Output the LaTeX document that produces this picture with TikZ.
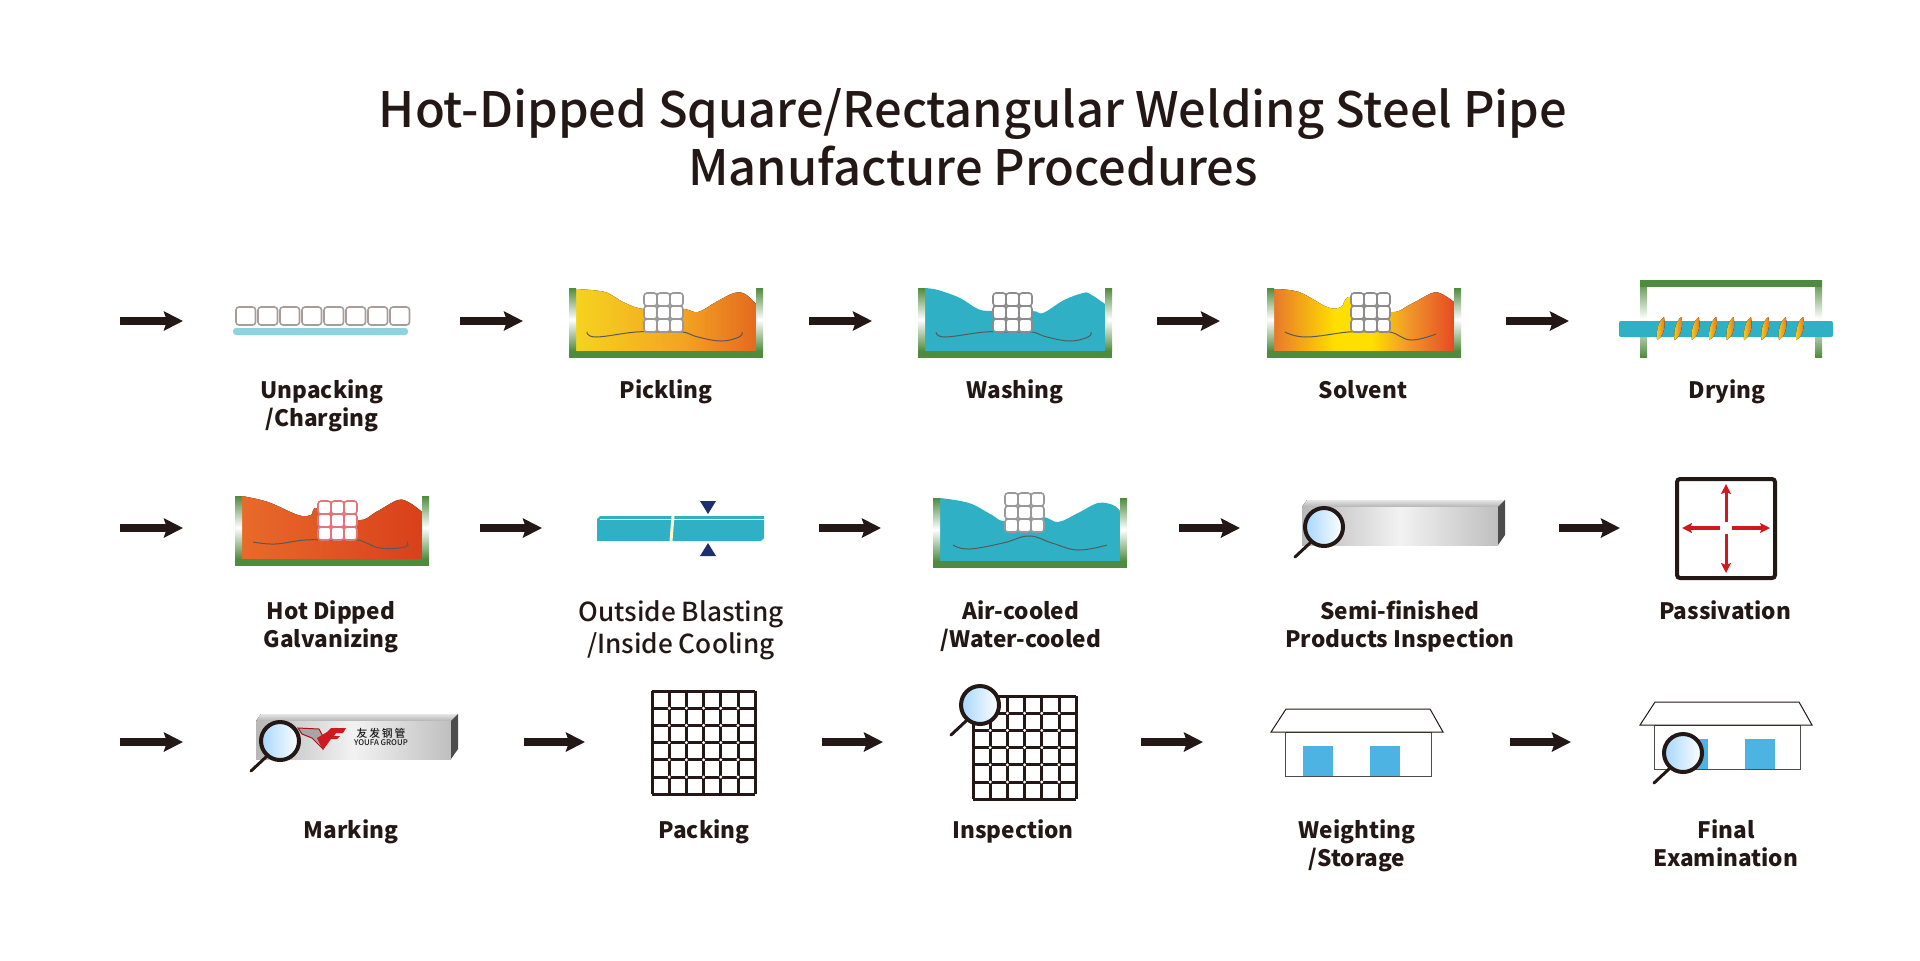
\documentclass[tikz,border=0pt]{standalone}
\usepackage{fontspec}
\setmainfont{Noto Sans CJK SC}
\newfontfamily\medfont[UprightFont={* Medium}]{Noto Sans CJK SC}
\usetikzlibrary{arrows.meta,positioning}

\definecolor{wallgreen}{HTML}{4F8B3E}
\definecolor{tealbath}{HTML}{2FB0C5}
\definecolor{arrowblack}{HTML}{231815}
\definecolor{passred}{HTML}{D0181F}
\definecolor{navytri}{HTML}{1D2F6F}
\definecolor{winblue}{HTML}{4DB3E2}
\definecolor{cellgrey}{HTML}{A89C98}
\definecolor{pickA}{HTML}{F5D31F}
\definecolor{pickB}{HTML}{F3A321}
\definecolor{pickC}{HTML}{E4691F}
\definecolor{solvA}{HTML}{E8792A}
\definecolor{solvB}{HTML}{FFDF00}
\definecolor{solvC}{HTML}{F09A2A}
\definecolor{solvD}{HTML}{E64A24}
\definecolor{zincA}{HTML}{E86A2A}
\definecolor{zincB}{HTML}{D9401B}

\pgfdeclarehorizontalshading{pickleshade}{100bp}{color(0bp)=(pickA); color(25bp)=(pickA); color(55bp)=(pickB); color(75bp)=(pickC); color(100bp)=(pickC)}
\pgfdeclarehorizontalshading{solventshade}{100bp}{color(0bp)=(solvA); color(25bp)=(solvA); color(42bp)=(solvB); color(52bp)=(solvB); color(62bp)=(solvC); color(75bp)=(solvD); color(100bp)=(solvD)}
\pgfdeclarehorizontalshading{zincshade}{100bp}{color(0bp)=(zincA); color(25bp)=(zincA); color(75bp)=(zincB); color(100bp)=(zincB)}
\pgfdeclarehorizontalshading{steelshade}{100bp}{color(0bp)=(black!28); color(25bp)=(black!28); color(50bp)=(black!5); color(75bp)=(black!25); color(100bp)=(black!25)}

% #1 x, #2 y, #3 bath shading, #4 surface points, #5 seam points, #6 grid x, #7 grid y, #8 cell colour
\newcommand{\tank}[8]{
  \begin{scope}[shift={(#1,#2)}]
    \fill[#3] plot[smooth,tension=0.6] coordinates {#4} -- (187,63) -- (7,63) -- cycle;
    \draw[seam] plot[smooth,tension=0.7] coordinates {#5};
    \fill[wall] (0,0) rectangle (7,63);
    \fill[wall] (187,0) rectangle (194,63);
    \fill[wallgreen] (0,63) rectangle (194,70);
    \foreach \i in {0,1,2} \foreach \j in {0,1,2}
      \draw[draw=#8,fill=white,line width=0.8pt,rounded corners=1.5pt] ({#6+\i*13},{#7+\j*13}) rectangle +(13,13);
  \end{scope}
}
% #1 x, #2 y of the lens centre
\newcommand{\lens}[2]{
  \begin{scope}[shift={(#1,#2)}]
    \draw[line width=1.5pt,arrowblack,line cap=round] (-14,16) -- (-29,30);
    \draw[line width=2pt,draw=arrowblack,shading angle=120,left color=blue!45!cyan!35!white,right color=white] (0,0) circle[radius=19];
  \end{scope}
}
% #1 x, #2 y of the front face top left, #3 front width, #4 front height, #5 depth
\newcommand{\steelbar}[5]{
  \begin{scope}[shift={(#1,#2)}]
    \fill[top color=black!10,bottom color=black!30] (0,0) -- (5,{-#5}) -- ({#3+#5},{-#5}) -- (#3,0) -- cycle;
    \fill[shading=steelshade] (0,0) rectangle (#3,#4);
    \fill[black!70] (#3,0) -- ({#3+#5},{-#5}) -- ({#3+#5},{#4-#5-3}) -- (#3,#4) -- cycle;
  \end{scope}
}
% #1 x, #2 y of the top left
\newcommand{\mesh}[2]{
  \begin{scope}[shift={(#1,#2)}]
    \foreach \i in {0,...,6} {
      \draw[meshline] ({\i*17.2},0) -- ({\i*17.2},103.2);
      \draw[meshline] (0,{\i*17.2}) -- (103.2,{\i*17.2});
    }
    \foreach \i in {1,...,5} \foreach \j in {1,...,5}
      \fill[white] ({\i*17.2},{\j*17.2}) circle[radius=1.6];
  \end{scope}
}
% #1 x of body left, #2 y of body top, #3 x of first window
\newcommand{\house}[3]{
  \begin{scope}[shift={(#1,#2)}]
    \draw[line width=0.5pt,draw=black!70] (0,0) rectangle (146,44);
    \fill[winblue] (#3,14) rectangle +(30,30);
    \fill[winblue] ({#3+67},14) rectangle +(30,30);
    \draw[line width=0.5pt,fill=white,draw=arrowblack] (-14,0) -- (1,-23) -- (145,-23) -- (158,0) -- cycle;
  \end{scope}
}

\begin{document}
\begin{tikzpicture}[x=0.5pt,y=-0.5pt,
    wall/.style={top color=wallgreen,bottom color=wallgreen,middle color=white},
    seam/.style={line width=0.5pt,black!65},
    meshline/.style={line width=1.5pt,arrowblack},
    flowarrow/.style={-{Stealth[length=9.5pt,width=9.5pt,inset=1.5pt]},line width=4.4pt,arrowblack},
    redarrow/.style={-{Stealth[length=5pt,width=5pt,inset=1pt]},line width=1.5pt,passred},
    steplabel/.style={font=\fontsize{11.3}{14}\selectfont\bfseries,align=center,text=arrowblack,inner sep=0pt,anchor=base},
    biglabel/.style={font=\fontsize{13.1}{16}\selectfont\medfont,align=center,text=arrowblack,inner sep=0pt,anchor=base},
    titlelabel/.style={font=\fontsize{24.4}{29}\selectfont\medfont,align=center,text=arrowblack,inner sep=0pt}]
  \useasboundingbox (0,0) rectangle (1920,960);

  \node[titlelabel] (title) at (973,137) {Hot-Dipped Square/Rectangular Welding Steel Pipe\\Manufacture Procedures};

  % first row
  \foreach \i in {0,...,7}
    \draw[draw=cellgrey,fill=white,line width=0.8pt,rounded corners=1.5pt] ({236+\i*22},307) rectangle +(19.5,18);
  \fill[tealbath!55!white,rounded corners=1.5pt] (233,328) rectangle (408,335);
  \tank{569}{288}{shading=pickleshade}{(7,1) (36,4) (54,14) (75,21) (114,21) (129,24) (147,14) (165,5) (176,6) (187,16)}{(18,44) (27,49) (67,44) (95,44) (114,44) (129,49) (152,53) (170,49) (173,44)}{75}{5}{black!40}
  \tank{918}{288}{fill=tealbath}{(7,0) (20,2) (42,10) (60,21) (75,23) (114,23) (125,25) (146,12) (165,5) (172,6) (187,16)}{(18,44) (27,49) (67,44) (95,44) (114,44) (129,49) (152,53) (170,49) (173,44)}{75}{5}{black!45}
  \tank{1267}{288}{shading=solventshade}{(7,1) (32,4) (60,19) (74,19) (84,9) (123,24) (144,16) (165,5) (175,6) (187,14)}{(18,44) (39,49) (81,44) (100,44) (123,44) (144,52) (169,46)}{84}{5}{black!45}
  \fill[wall] (1640,280) rectangle (1647,357);
  \fill[wall] (1815,280) rectangle (1822,357);
  \fill[wallgreen] (1640,280) rectangle (1822,287);
  \fill[tealbath,rounded corners=1pt] (1619,321) rectangle (1833,337);
  \foreach \i in {0,...,8}
    \fill[left color=pickA,right color=pickC] ({1657+\i*17.4},340) .. controls ({1656+\i*17.4},330) and ({1659+\i*17.4},320) .. ({1664+\i*17.4},317) .. controls ({1666+\i*17.4},327) and ({1663+\i*17.4},337) .. ({1657+\i*17.4},340) -- cycle;

  % second row
  \tank{235}{496}{shading=zincshade}{(7,0) (33,6) (63,19) (76,19) (83,12) (123,24) (141,16) (163,4) (175,7) (187,16)}{(18,46) (40,48) (70,44) (100,44) (123,44) (145,52) (170,51) (172,46)}{83}{5}{passred!60!white}
  \fill[tealbath] (597,519) -- (600,516) -- (764,516) -- (764,538) -- (761,541) -- (597,541) -- cycle;
  \draw[white,line width=0.3pt] (600,519) -- (764,519);
  \draw[white!80!yellow,line width=1.5pt] (673,516) -- (671,541);
  \fill[navytri] (700,501) -- (716,501) -- (708,514) -- cycle;
  \fill[navytri] (700,556) -- (716,556) -- (708,543) -- cycle;
  \tank{933}{498}{fill=tealbath}{(7,0) (36,5) (59,17) (72,23) (109,19) (125,24) (145,15) (165,5) (180,7) (187,13)}{(20,47) (36,51) (70,45) (96,38) (119,45) (145,52) (174,47)}{72}{-5}{black!40}
  \steelbar{1302}{507}{196}{38}{7}
  \lens{1324}{527}
  \node[draw=arrowblack,line width=2pt,rounded corners=1.5pt,minimum width=49pt,minimum height=49.5pt,inner sep=0pt] (passbox) at (1726,528.5) {};
  \coordinate (passc) at (1726,528);
  \path[redarrow] ([yshift=3pt]passc) edge (1726,484)
    ([yshift=-3pt]passc) edge (1726,573);
  \path[redarrow,line width=2.2pt] ([xshift=-3pt]passc) edge (1682,528)
    ([xshift=3pt]passc) edge (1770,528);

  % third row
  \steelbar{256}{721}{195}{38}{7}
  \draw[passred!80!black,line width=0.5pt,fill=black!35] (298,728) -- (319,729) -- (326,742) -- (323,749) -- (312,738) -- (302,734) -- cycle;
  \fill[passred] (323,750) -- (317,738) -- (327,732) -- (331,728) -- (346,728) -- (343,733) -- (336,733) -- (334,736) -- (340,736) -- (337,739) -- (331,739) -- cycle;
  \node[font=\fontsize{5.4}{6}\selectfont\medfont,inner sep=0pt,text=black!90] (logocn) at (381,733) {友\,发\,钢\,管};
  \node[font=\fontsize{3.9}{4}\selectfont\medfont,inner sep=0pt,text=black!90] (logoen) at (381,743) {YOUFA GROUP};
  \lens{280}{741}
  \mesh{652}{691}
  \mesh{973}{696}
  \lens{980}{705}
  \house{1285}{732}{18}
  \house{1654}{725}{24}
  \lens{1683}{753}

  \node[steplabel] (unpack) at (322,426) {Unpacking\\/Charging};
  \node[steplabel] (pickle) at (666,398) {Pickling};
  \node[steplabel] (wash) at (1015,398) {Washing};
  \node[steplabel] (solvent) at (1363,398) {Solvent};
  \node[steplabel] (dry) at (1727,398) {Drying};
  \node[steplabel] (galv) at (331,647) {Hot Dipped\\Galvanizing};
  \node[biglabel] (blast) at (681,653) {Outside Blasting\\/Inside Cooling};
  \node[steplabel] (cool) at (1021,647) {Air-cooled\\/Water-cooled};
  \node[steplabel] (semi) at (1400,647) {Semi-finished\\Products Inspection};
  \node[steplabel] (pass) at (1725,619) {Passivation};
  \node[steplabel] (mark) at (351,838) {Marking};
  \node[steplabel] (pack) at (704,838) {Packing};
  \node[steplabel] (inspect) at (1013,838) {Inspection};
  \node[steplabel] (weigh) at (1357,866) {Weighting\\/Storage};
  \node[steplabel] (final) at (1726,866) {Final\\Examination};

  \coordinate (a1) at (120,321);  \coordinate (b1) at (183,321);
  \coordinate (a2) at (460,321);  \coordinate (b2) at (523,321);
  \coordinate (a3) at (809,321);  \coordinate (b3) at (872,321);
  \coordinate (a4) at (1157,321); \coordinate (b4) at (1220,321);
  \coordinate (a5) at (1506,321); \coordinate (b5) at (1569,321);
  \coordinate (c1) at (120,528);  \coordinate (d1) at (183,528);
  \coordinate (c2) at (480,528);  \coordinate (d2) at (542,528);
  \coordinate (c3) at (819,528);  \coordinate (d3) at (881,528);
  \coordinate (c4) at (1179,528); \coordinate (d4) at (1240,528);
  \coordinate (c5) at (1559,528); \coordinate (d5) at (1620,528);
  \coordinate (e1) at (120,742);  \coordinate (f1) at (183,742);
  \coordinate (e2) at (524,742);  \coordinate (f2) at (585,742);
  \coordinate (e3) at (822,742);  \coordinate (f3) at (883,742);
  \coordinate (e4) at (1141,742); \coordinate (f4) at (1203,742);
  \coordinate (e5) at (1510,742); \coordinate (f5) at (1571,742);
  \path[flowarrow]
    (a1) edge (b1) (a2) edge (b2) (a3) edge (b3) (a4) edge (b4) (a5) edge (b5)
    (c1) edge (d1) (c2) edge (d2) (c3) edge (d3) (c4) edge (d4) (c5) edge (d5)
    (e1) edge (f1) (e2) edge (f2) (e3) edge (f3) (e4) edge (f4) (e5) edge (f5);
\end{tikzpicture}
\end{document}
